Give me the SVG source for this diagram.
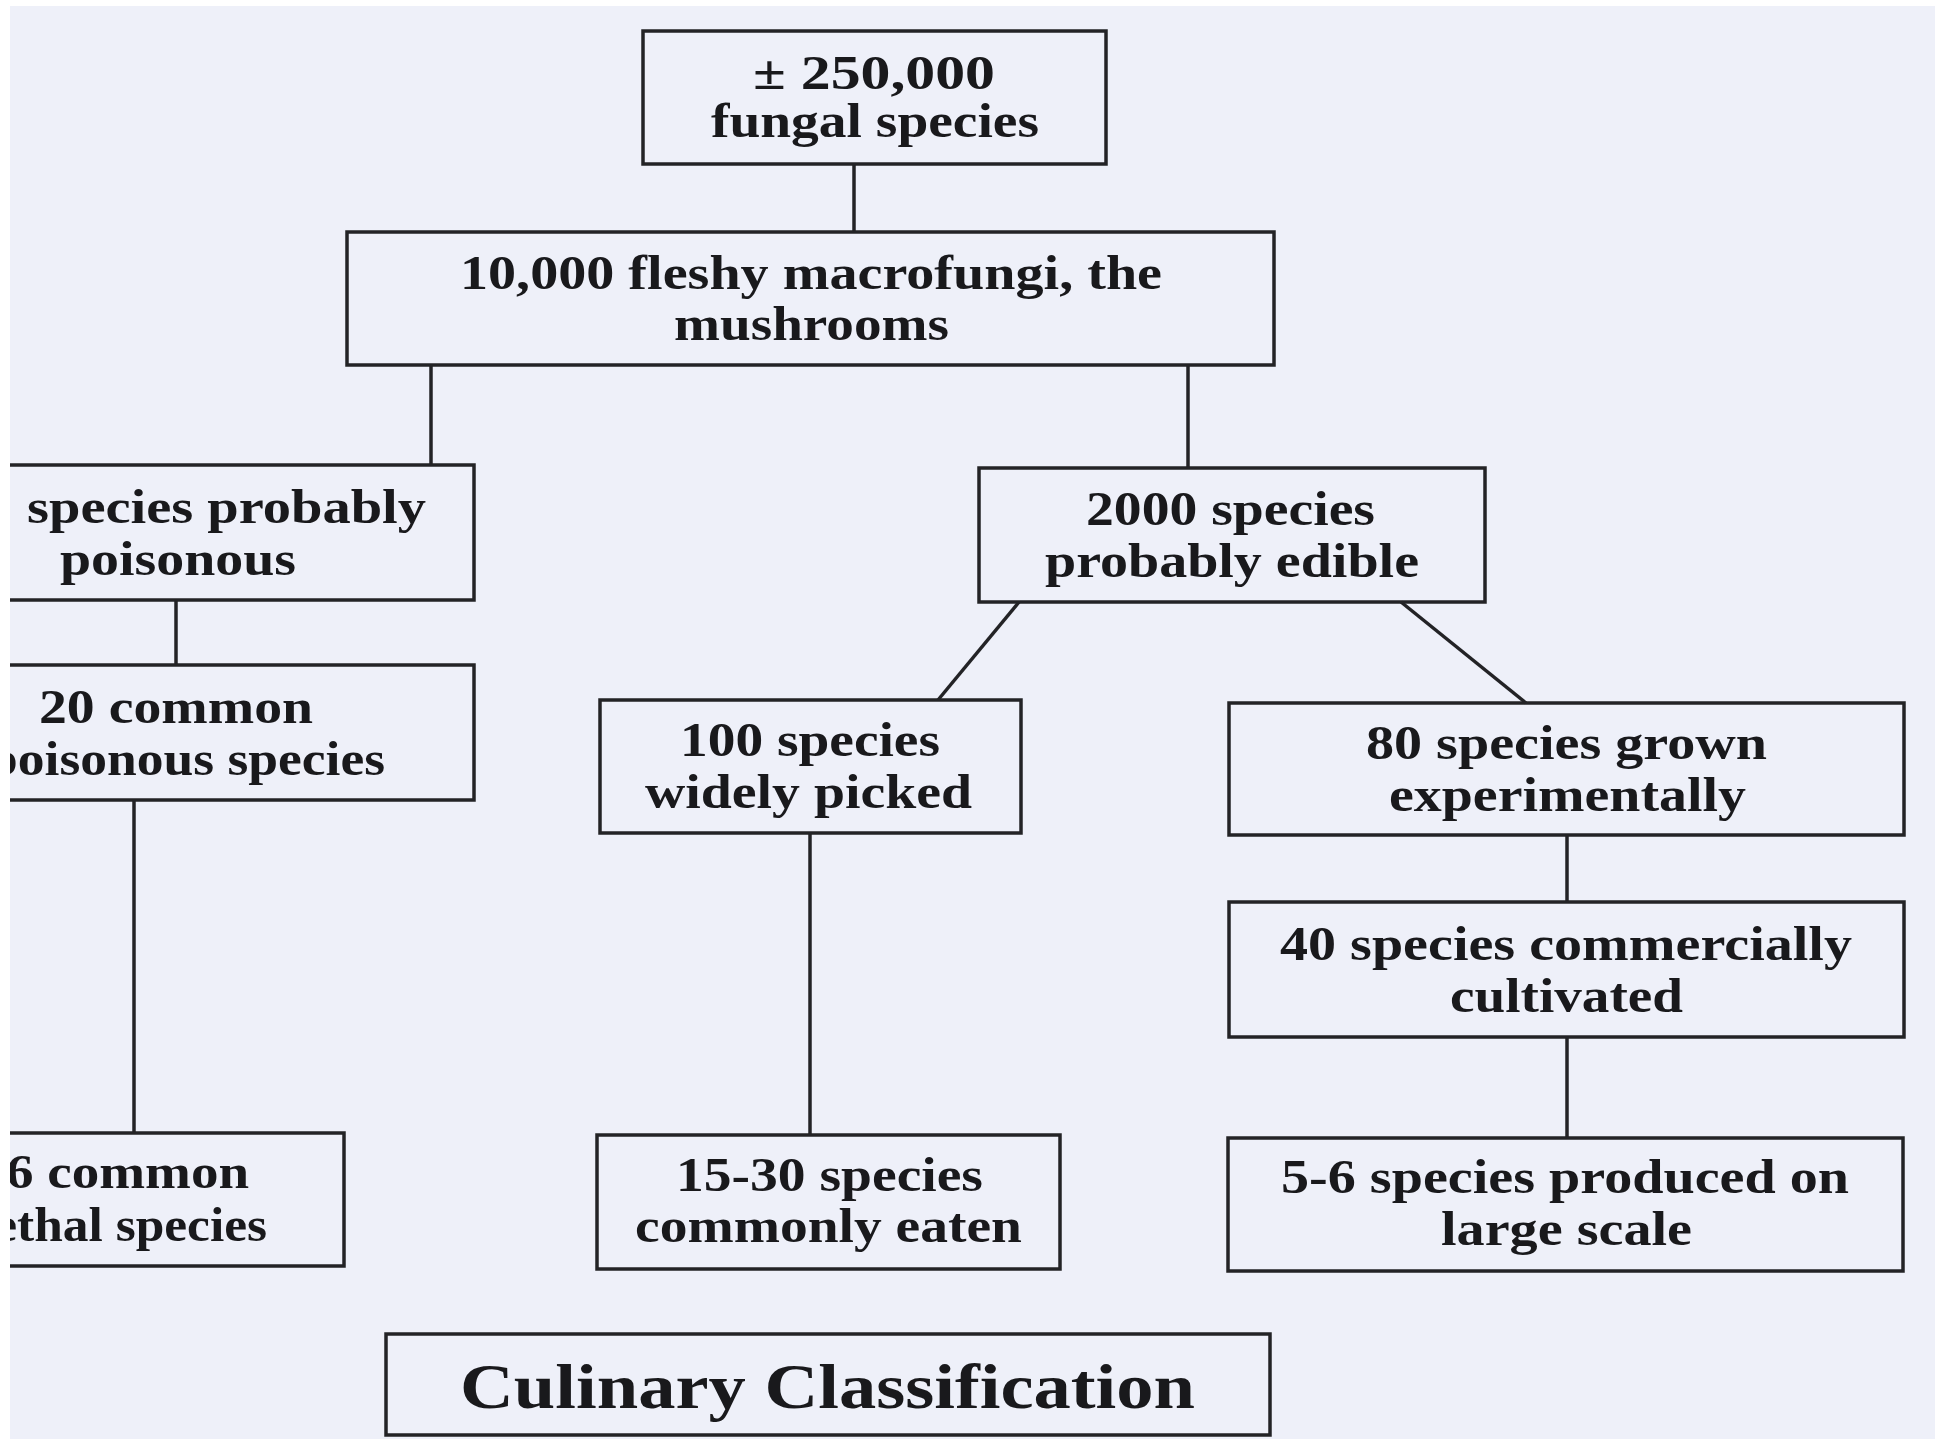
<svg xmlns="http://www.w3.org/2000/svg" width="1935" height="1439" viewBox="0 0 1935 1439">
<defs>
<style>
.box{fill:none;stroke:#232326;stroke-width:3.5}
.con{stroke:#232326;stroke-width:3.5;fill:none}
.t{font-family:"Liberation Serif","Times New Roman",serif;font-weight:bold;font-size:48px;fill:#19191c}
.title{font-family:"Liberation Serif","Times New Roman",serif;font-weight:bold;font-size:64px;fill:#19191c}
</style>
<clipPath id="leftclip"><rect x="10" y="0" width="1925" height="1439"/></clipPath>
</defs>
<rect x="0" y="0" width="1935" height="1439" fill="#ffffff"/>
<rect x="10" y="6" width="1925" height="1433" fill="#eef0f9"/>
<g id="connectors">
<line class="con" x1="854" y1="164" x2="854" y2="232"/>
<line class="con" x1="431" y1="365" x2="431" y2="465"/>
<line class="con" x1="1188" y1="365" x2="1188" y2="468"/>
<line class="con" x1="176" y1="600" x2="176" y2="665"/>
<line class="con" x1="134" y1="800" x2="134" y2="1133"/>
<line class="con" x1="1019" y1="602" x2="938" y2="700"/>
<line class="con" x1="1401" y1="602" x2="1526" y2="703"/>
<line class="con" x1="810" y1="833" x2="810" y2="1135"/>
<line class="con" x1="1567" y1="835" x2="1567" y2="902"/>
<line class="con" x1="1567" y1="1037" x2="1567" y2="1138"/>
</g>
<g id="n-fungal">
<rect class="box" x="643" y="31" width="463" height="133"/>
<text class="t" x="753" y="89" textLength="242" lengthAdjust="spacingAndGlyphs">± 250,000</text>
<text class="t" x="711" y="137" textLength="328" lengthAdjust="spacingAndGlyphs">fungal species</text>
</g>
<g id="n-macrofungi">
<rect class="box" x="347" y="232" width="927" height="133"/>
<text class="t" x="460" y="289" textLength="702" lengthAdjust="spacingAndGlyphs">10,000 fleshy macrofungi, the</text>
<text class="t" x="674" y="340" textLength="275" lengthAdjust="spacingAndGlyphs">mushrooms</text>
</g>
<g id="n-poisonous" clip-path="url(#leftclip)">
<rect class="box" x="-20" y="465" width="494" height="135"/>
<text class="t" x="27" y="523" textLength="399" lengthAdjust="spacingAndGlyphs">species probably</text>
<text class="t" x="60" y="575" textLength="236" lengthAdjust="spacingAndGlyphs">poisonous</text>
</g>
<g id="n-edible">
<rect class="box" x="979" y="468" width="506" height="134"/>
<text class="t" x="1086" y="525" textLength="289" lengthAdjust="spacingAndGlyphs">2000 species</text>
<text class="t" x="1045" y="577" textLength="374" lengthAdjust="spacingAndGlyphs">probably edible</text>
</g>
<g id="n-20common" clip-path="url(#leftclip)">
<rect class="box" x="-20" y="665" width="494" height="135"/>
<text class="t" x="39" y="723" textLength="274" lengthAdjust="spacingAndGlyphs">20 common</text>
<text class="t" x="-12" y="775" textLength="397" lengthAdjust="spacingAndGlyphs">poisonous species</text>
</g>
<g id="n-100">
<rect class="box" x="600" y="700" width="421" height="133"/>
<text class="t" x="680" y="756" textLength="260" lengthAdjust="spacingAndGlyphs">100 species</text>
<text class="t" x="645" y="808" textLength="327" lengthAdjust="spacingAndGlyphs">widely picked</text>
</g>
<g id="n-80">
<rect class="box" x="1229" y="703" width="675" height="132"/>
<text class="t" x="1366" y="759" textLength="401" lengthAdjust="spacingAndGlyphs">80 species grown</text>
<text class="t" x="1389" y="811" textLength="357" lengthAdjust="spacingAndGlyphs">experimentally</text>
</g>
<g id="n-40">
<rect class="box" x="1229" y="902" width="675" height="135"/>
<text class="t" x="1280" y="960" textLength="572" lengthAdjust="spacingAndGlyphs">40 species commercially</text>
<text class="t" x="1450" y="1012" textLength="233" lengthAdjust="spacingAndGlyphs">cultivated</text>
</g>
<g id="n-6common" clip-path="url(#leftclip)">
<rect class="box" x="-20" y="1133" width="364" height="133"/>
<text class="t" x="6" y="1188" textLength="243" lengthAdjust="spacingAndGlyphs">6 common</text>
<text class="t" x="-20" y="1241" textLength="287" lengthAdjust="spacingAndGlyphs">lethal species</text>
</g>
<g id="n-15-30">
<rect class="box" x="597" y="1135" width="463" height="134"/>
<text class="t" x="676" y="1191" textLength="307" lengthAdjust="spacingAndGlyphs">15-30 species</text>
<text class="t" x="635" y="1242" textLength="387" lengthAdjust="spacingAndGlyphs">commonly eaten</text>
</g>
<g id="n-5-6">
<rect class="box" x="1228" y="1138" width="675" height="133"/>
<text class="t" x="1281" y="1193" textLength="568" lengthAdjust="spacingAndGlyphs">5-6 species produced on</text>
<text class="t" x="1441" y="1245" textLength="251" lengthAdjust="spacingAndGlyphs">large scale</text>
</g>
<g id="n-title">
<rect class="box" x="386" y="1334" width="884" height="101"/>
<text class="title" x="460" y="1408" textLength="735" lengthAdjust="spacingAndGlyphs">Culinary Classification</text>
</g>
</svg>
